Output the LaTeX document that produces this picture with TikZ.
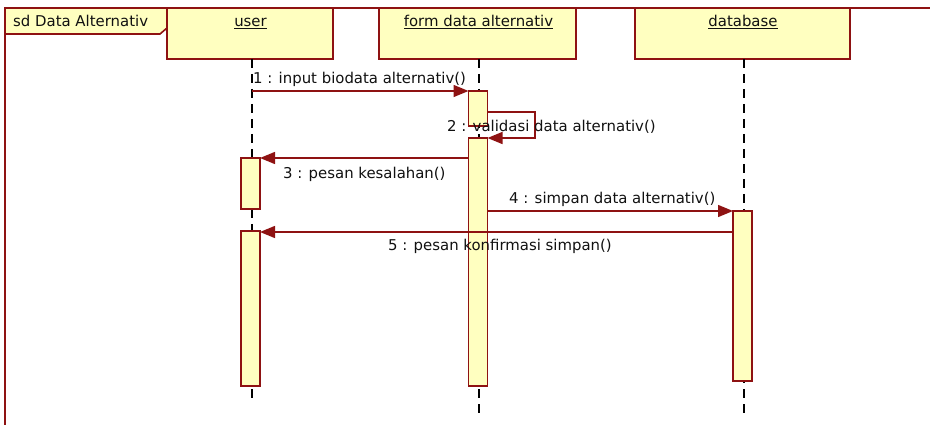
\documentclass[tikz,border=0pt]{standalone}
\usepackage{fontspec}
\setmainfont{DejaVu Sans}
\usetikzlibrary{arrows.meta}
\definecolor{umlred}{HTML}{8E1212}
\definecolor{umlfill}{HTML}{FFFFC0}
\definecolor{umltext}{HTML}{111111}
\begin{document}
\begin{tikzpicture}[x=1pt,y=-1pt,
  font=\fontsize{14.9}{18}\selectfont,
  objbox/.style={draw=umlred, fill=umlfill, line width=1.6pt, anchor=north west, minimum height=51pt, inner sep=0pt, outer sep=0pt},
  actbox/.style={draw=umlred, fill=umlfill, line width=1.6pt, anchor=north, minimum width=19pt, inner sep=0pt, outer sep=0pt},
  life/.style={line width=1.4pt, dash pattern=on 9pt off 6pt},
  msg/.style={draw=umlred, line width=1.4pt, -{Triangle[length=15pt,width=12pt]}},
  lbl/.style={text=umltext, inner sep=0pt, anchor=base west},
  olbl/.style={text=umltext, inner sep=0pt, anchor=base}]
\useasboundingbox (0,0) rectangle (930,425);
\fill[white] (0,0) rectangle (930,425);
% frame
\draw[umlred, line width=1.6pt] (5,425) -- (5,8) -- (930,8);
\draw[umlred, fill=umlfill, line width=1.6pt] (5,8) -- (167,8) -- (167,28) -- (160,34) -- (5,34) -- cycle;
\node[lbl] (sdlabel) at (13,27) {sd Data Alternativ};
% object boxes
\node[objbox, minimum width=166pt] (user) at (167,8) {};
\node[objbox, minimum width=197pt] (form) at (379,8) {};
\node[objbox, minimum width=215pt] (db) at (635,8) {};
\node[olbl] (userlbl) at (250.5,26.5) {\underline{user}};
\node[olbl] (formlbl) at (478.5,26.5) {\underline{form data alternativ}};
\node[olbl] (dblbl) at (743,26.5) {\underline{database}};
% lifelines
\coordinate (ut) at (252,59); \coordinate (ue) at (252,402);
\coordinate (ft) at (479,59); \coordinate (fe) at (479,413);
\coordinate (dt) at (744,59); \coordinate (de) at (744,413);
\draw[life] (ut) -- (ue);
\draw[life] (ft) -- (fe);
\draw[life] (dt) -- (de);
% activations
\node[actbox, minimum height=35pt] (fa1) at (478,91) {};
\node[actbox, minimum height=248pt] (fa2) at (478,138) {};
\node[actbox, minimum height=51pt] (ua1) at (250.5,158) {};
\node[actbox, minimum height=155pt] (ua2) at (250.5,231) {};
\node[actbox, minimum height=170pt] (da1) at (742.5,211) {};
% message helpers
\coordinate (m1s) at (252,91);
\coordinate (y91) at (0,91);
\coordinate (y112) at (0,112);
\coordinate (s2a) at (535,112);
\coordinate (s2b) at (535,138);
\coordinate (y138) at (0,138);
\coordinate (y158) at (0,158);
\coordinate (y211) at (0,211);
\coordinate (y232) at (0,232);
% messages
\draw[msg] (m1s) -- (fa1.west |- y91);
\draw[msg] (fa1.east |- y112) -- (s2a) -- (s2b) -- (fa2.east |- y138);
\draw[msg] (fa2.west |- y158) -- (ua1.east |- y158);
\draw[msg] (fa2.east |- y211) -- (da1.west |- y211);
\draw[msg] (da1.west |- y232) -- (ua2.east |- y232);
% labels
\node[lbl] (l1) at (253,84) {1 : input biodata alternativ()};
\node[lbl] (l2) at (447,131.5) {2 : validasi data alternativ()};
\node[lbl] (l3) at (283,179) {3 : pesan kesalahan()};
\node[lbl] (l4) at (509,204) {4 : simpan data alternativ()};
\node[lbl] (l5) at (388,250.5) {5 : pesan konfirmasi simpan()};
\end{tikzpicture}
\end{document}
